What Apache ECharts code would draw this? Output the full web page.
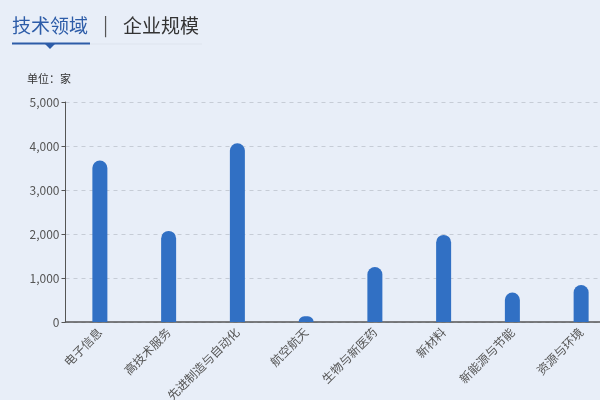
<!DOCTYPE html>
<html><head><meta charset="utf-8">
<script src="https://cdn.jsdelivr.net/npm/echarts@6/dist/echarts.min.js"></script>
<style>html,body{margin:0;padding:0;background:#e8eef8;}#c{width:600px;height:400px;}</style>
</head><body><div id="c"></div>
<script>
const categories = ['电子信息','高技术服务','先进制造与自动化','航空航天','生物与新医药','新材料','新能源与节能','资源与环境'];
const counts = [3670, 2070, 4060, 130, 1250, 1980, 670, 840];
const yTicks = [0, 1000, 2000, 3000, 4000, 5000];
const tabs = ['技术领域', '企业规模'];
const unitLabel = '单位：家';

const font = '"Noto Sans CJK SC", "Noto Sans", sans-serif';
const chart = echarts.init(document.getElementById('c'));
chart.setOption({
  backgroundColor: '#e8eef8',
  textStyle: { fontFamily: font },
  grid: { left: 65.5, width: 550, top: 102, height: 220, containLabel: false, outerBoundsMode: 'none' },
  graphic: [
    { type: 'text', left: 12, top: 16, style: { text: tabs[0], fill: '#2d5ca8', font: '19px ' + font } },
    { type: 'text', left: 103, top: 15, style: { text: '|', fill: '#555', font: '19px ' + font } },
    { type: 'text', left: 123, top: 16, style: { text: tabs[1], fill: '#333', font: '19px ' + font } },
    { type: 'rect', shape: { x: 90, y: 43.5, width: 112, height: 1 }, style: { fill: '#dde3ee' } },
    { type: 'rect', shape: { x: 12, y: 42.5, width: 78, height: 2 }, style: { fill: '#2d5ca8' } },
    { type: 'polygon', shape: { points: [[45, 44], [55, 44], [50, 49]] }, style: { fill: '#2d5ca8' } },
    { type: 'text', left: 27, top: 73, style: { text: unitLabel, fill: '#333', font: '11px ' + font } }
  ],
  xAxis: {
    type: 'category',
    data: categories,
    axisLine: { lineStyle: { color: '#555', width: 1.5 } },
    axisTick: { show: false },
    axisLabel: { rotate: 45, color: '#555', fontSize: 12, interval: 0, margin: 8 }
  },
  yAxis: {
    type: 'value',
    min: yTicks[0],
    max: yTicks[yTicks.length - 1],
    interval: 1000,
    axisLine: { show: true, lineStyle: { color: '#555' } },
    axisTick: { show: true, length: 4, lineStyle: { color: '#555' } },
    axisLabel: { color: '#555', fontSize: 12, margin: 6,
      formatter: v => v.toLocaleString('en-US') },
    splitLine: { lineStyle: { type: [4, 4], color: '#c6ccd6' } }
  },
  series: [{
    type: 'bar',
    data: counts,
    barWidth: 15,
    itemStyle: { color: '#3170c4', borderRadius: [7.5, 7.5, 0, 0] }
  }]
});
</script></body></html>
